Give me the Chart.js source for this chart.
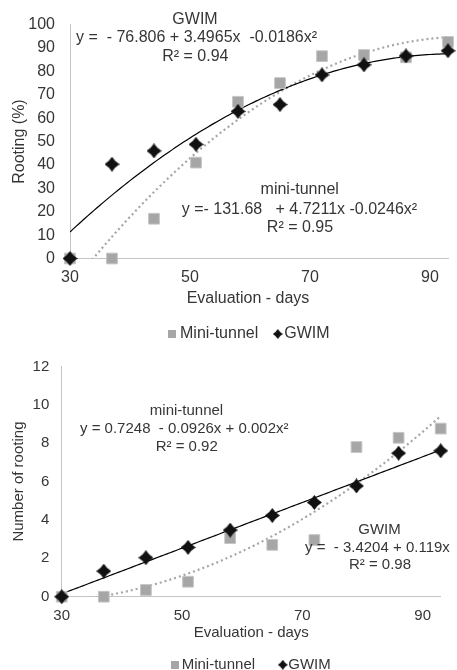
<!DOCTYPE html>
<html>
<head>
<meta charset="utf-8">
<script src="https://cdn.jsdelivr.net/npm/chart.js@4.4.1/dist/chart.umd.min.js"></script>
<style>
    html, body { margin: 0; padding: 0; background: #fff; overflow: hidden; }
    .box { position: absolute; left: 0; width: 457px; }
    #top-box { top: 0; height: 345px; }
    #bottom-box { top: 345px; height: 325px; }
</style>
</head>
<body>
<div class="box" id="top-box"><canvas id="rootingChart"></canvas></div>
<div class="box" id="bottom-box"><canvas id="numberChart"></canvas></div>
<script>
// --- Data ---

// evaluation days
const days = [30, 37, 44, 51, 58, 65, 72, 79, 86, 93];
const dayTicks = [30, 50, 70, 90];

// rooting (%)
const rootingMini = [0, 0, 17, 41, 67, 75, 86.5, 87, 86, 92.6];
const rootingGwim = [0, 40.3, 46, 48.8, 62.9, 65.8, 78.5, 82.8, 86.6, 88.8];

// number of rooting
const numberMini = [0, 0, 0.35, 0.78, 3.05, 2.7, 2.95, 7.8, 8.28, 8.76];
const numberGwim = [0, 1.33, 2.03, 2.57, 3.47, 4.23, 4.91, 5.77, 7.48, 7.6];

// trend coefficients as printed on the chart: a + b*x + c*x^2
const rootingMiniFit = [-131.68, 4.7211, -0.0246];
const rootingGwimFit = [-76.806, 3.4965, -0.0186];
const numberMiniFit = [0.7248, -0.0926, 0.002];
const numberGwimFit = [-3.4204, 0.119];

const FONT = "'Liberation Sans', Arial, sans-serif";
const TEXT = '#363636';
const GRAY = '#a6a6a6';

Chart.defaults.font.family = FONT;
Chart.defaults.color = TEXT;

// --- Markers ---

// slightly pinched diamond, like the spreadsheet marker
function diamond(size, color) {
    const c = document.createElement('canvas');
    c.width = c.height = size;
    const g = c.getContext('2d');
    const h = size / 2, k = h * 0.38;
    g.fillStyle = color;
    g.beginPath();
    g.moveTo(h, 0);
    g.quadraticCurveTo(h + k, h - k, size, h);
    g.quadraticCurveTo(h + k, h + k, h, size);
    g.quadraticCurveTo(h - k, h + k, 0, h);
    g.quadraticCurveTo(h - k, h - k, h, 0);
    g.fill();
    return c;
}

function square(size, color) {
    const c = document.createElement('canvas');
    c.width = c.height = size;
    const g = c.getContext('2d');
    g.fillStyle = color;
    g.fillRect(0, 0, size, size);
    return c;
}

function toPoints(values) {
    return days.map((d, i) => ({ x: d, y: values[i] }));
}

function trend(coef) {
    const pts = [];
    for (let x = days[0]; x <= days[days.length - 1] + 0.01; x += 0.5) {
        pts.push({ x, y: coef.reduce((s, c, i) => s + c * Math.pow(x, i), 0) });
    }
    return pts;
}

// --- Text overlay: equations, x title, legend ---

function notesPlugin(spec) {
    return {
        id: 'notes',
        afterDraw(chart) {
            const ctx = chart.ctx;
            ctx.save();
            ctx.font = spec.size + 'px ' + FONT;
            ctx.fillStyle = TEXT;
            ctx.textBaseline = 'middle';

            spec.notes.forEach(n => {
                ctx.textAlign = n.align || 'center';
                ctx.fillText(n.text, n.x, n.y);
            });

            ctx.textAlign = 'center';
            ctx.fillText(spec.xTitle.text, spec.xTitle.x, spec.xTitle.y);

            // legend
            ctx.textAlign = 'left';
            let x = spec.legend.x;
            const y = spec.legend.y;
            spec.legend.items.forEach(item => {
                ctx.drawImage(item.img, x, y - item.img.height / 2);
                x += item.img.width + item.gap;
                ctx.fillText(item.text, x, y);
                x += ctx.measureText(item.text).width + item.after;
            });
            ctx.restore();
        }
    };
}

// --- Chart builder ---

function makeChart(id, cfg) {
    const ctx = document.getElementById(id).getContext('2d');
    return new Chart(ctx, {
        type: 'scatter',
        data: {
            datasets: [
                {
                    label: 'GWIM',
                    data: toPoints(cfg.gwim),
                    pointStyle: diamond(15, '#111'),
                    pointRadius: 8,
                    clip: false,
                    order: 0
                },
                {
                    label: 'Mini-tunnel',
                    data: toPoints(cfg.mini),
                    pointStyle: 'rect',
                    pointRadius: 7.6,
                    backgroundColor: GRAY,
                    borderColor: '#c6c6c6',
                    borderWidth: 1,
                    clip: false,
                    order: 1
                },
                {
                    label: 'GWIM trend',
                    data: trend(cfg.gwimFit),
                    showLine: true,
                    borderColor: '#000',
                    borderWidth: 1.2,
                    pointRadius: 0,
                    order: 2
                },
                {
                    label: 'Mini-tunnel trend',
                    data: trend(cfg.miniFit),
                    showLine: true,
                    borderColor: GRAY,
                    borderWidth: 2.2,
                    borderDash: [2, 3],
                    pointRadius: 0,
                    order: 3
                }
            ]
        },
        options: {
            responsive: true,
            maintainAspectRatio: false,
            animation: false,
            events: [],
            layout: { padding: cfg.padding },
            plugins: {
                legend: { display: false },
                tooltip: { enabled: false }
            },
            scales: {
                x: {
                    type: 'linear',
                    min: 30,
                    max: 93,
                    afterBuildTicks: s => { s.ticks = dayTicks.map(v => ({ value: v })); },
                    afterFit: s => { s.height = 30; },
                    grid: { display: false, drawTicks: false },
                    border: { display: true, color: '#c4c4c4', width: 1 },
                    ticks: { padding: cfg.xTickPad, font: { size: cfg.size }, color: TEXT }
                },
                y: {
                    min: 0,
                    max: cfg.yMax,
                    afterFit: s => { s.width = cfg.yWidth; },
                    grid: { display: false, drawTicks: false },
                    border: { display: true, color: '#c4c4c4', width: 1 },
                    ticks: { stepSize: cfg.yStep, padding: cfg.yTickPad, font: { size: cfg.size }, color: TEXT },
                    title: {
                        display: true,
                        text: cfg.yTitle,
                        font: { size: cfg.size },
                        color: TEXT,
                        padding: { top: 10, bottom: 0 }
                    }
                }
            }
        },
        plugins: [notesPlugin(cfg)]
    });
}

makeChart('rootingChart', {
    mini: rootingMini,
    gwim: rootingGwim,
    miniFit: rootingMiniFit,
    gwimFit: rootingGwimFit,
    yMax: 100,
    yStep: 10,
    yTitle: 'Rooting (%)',
    size: 16,
    padding: { top: 22.5, right: 7, bottom: 56.5, left: 0 },
    yWidth: 70,
    yTickPad: 15,
    xTickPad: 9.4,
    xTitle: { text: 'Evaluation - days', x: 248, y: 299 },
    notes: [
        { text: 'GWIM', x: 195, y: 19.3 },
        { text: 'y =  - 76.806 + 3.4965x  -0.0186x²', x: 76, y: 37.5, align: 'left' },
        { text: 'R² = 0.94', x: 195.3, y: 56.7 },
        { text: 'mini-tunnel', x: 299.7, y: 190 },
        { text: 'y =- 131.68   + 4.7211x -0.0246x²', x: 181.7, y: 209.3, align: 'left' },
        { text: 'R² = 0.95', x: 300, y: 227.3 }
    ],
    legend: {
        x: 168, y: 334,
        items: [
            { text: 'Mini-tunnel', img: square(8, GRAY), gap: 4, after: 14.5 },
            { text: 'GWIM', img: diamond(10, '#111'), gap: 1.5, after: 0 }
        ]
    }
});

makeChart('numberChart', {
    mini: numberMini,
    gwim: numberGwim,
    miniFit: numberMiniFit,
    gwimFit: numberGwimFit,
    yMax: 12,
    yStep: 2,
    yTitle: 'Number of rooting',
    size: 15,
    padding: { top: 17.3, right: 16.3, bottom: 43.3, left: 0 },
    yWidth: 61.7,
    yTickPad: 12.4,
    xTickPad: 10,
    xTitle: { text: 'Evaluation - days', x: 251.3, y: 287.8 },
    notes: [
        { text: 'mini-tunnel', x: 186.5, y: 66 },
        { text: 'y = 0.7248  - 0.0926x + 0.002x²', x: 80, y: 84, align: 'left' },
        { text: 'R² = 0.92', x: 186.7, y: 101.7 },
        { text: 'GWIM', x: 379.5, y: 185 },
        { text: 'y =  - 3.4204 + 0.119x', x: 305, y: 203.3, align: 'left' },
        { text: 'R² = 0.98', x: 380, y: 220 }
    ],
    legend: {
        x: 170.7, y: 319.8,
        items: [
            { text: 'Mini-tunnel', img: square(8, GRAY), gap: 3, after: 22.7 },
            { text: 'GWIM', img: diamond(10, '#111'), gap: 0.5, after: 0 }
        ]
    }
});
</script>
</body>
</html>
